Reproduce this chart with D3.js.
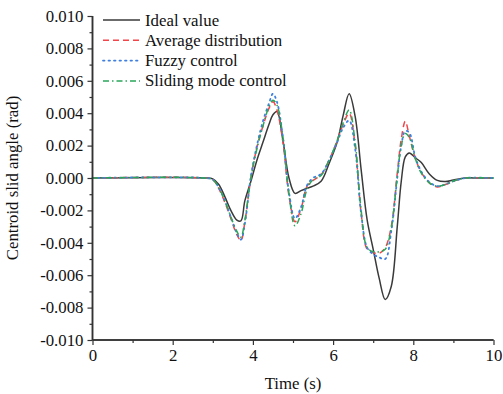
<!DOCTYPE html>
<html>
<head>
<meta charset="utf-8">
<script src="https://cdn.jsdelivr.net/npm/d3@7"></script>
<style>
  html, body { margin: 0; padding: 0; background: #fff; }
  svg text { font-family: "Liberation Serif", "Times New Roman", serif; fill: #111; }
</style>
</head>
<body>
<svg id="chart" width="503" height="394"></svg>
<script>
// ── Data (angles in units of 0.001 rad) ───────────────────
const times = [0, 2.8, 3.0, 3.15, 3.3, 3.45, 3.6, 3.7, 3.8, 3.95,
  4.1, 4.25, 4.4, 4.5, 4.6, 4.75, 4.9, 5.05, 5.2, 5.35,
  5.5, 5.7, 5.9, 6.1, 6.25, 6.4, 6.55, 6.7, 6.85, 7.0,
  7.15, 7.3, 7.45, 7.6, 7.7, 7.8, 7.9, 8.05, 8.2, 8.4,
  8.6, 8.8, 9.0, 9.3, 9.6, 10];

const idealValue = [0, 0, -0.05, -0.4, -1.15, -2.0, -2.6, -2.65, -1.4, -0.2,
  1.1, 2.2, 3.3, 3.9, 4.1, 2.3, 0.0, -0.95, -0.78, -0.63,
  -0.5, -0.2, 0.9, 2.2, 3.85, 5.2, 3.8, 0.5, -2.6, -4.4,
  -6.2, -7.5, -6.7, -3.0, -0.2, 1.3, 1.55, 1.25, 0.95, 0.25,
  -0.15, -0.22, -0.12, 0, 0, 0];

const averageDist = [0, 0, -0.1, -0.65, -1.5, -2.5, -3.5, -3.85, -2.7, 0.0,
  1.9, 3.2, 4.3, 4.7, 4.2, 2.2, -1.1, -2.7, -1.9, -0.5,
  -0.15, 0.2, 1.1, 2.3, 3.3, 4.0, 2.0, -2.2, -4.4, -4.6,
  -4.65, -4.3, -3.0, 0.3, 2.4, 3.5, 2.6, 1.2, 0.35, -0.3,
  -0.55, -0.4, -0.2, 0, 0.02, 0];

const fuzzyControl = [0, 0, -0.1, -0.6, -1.4, -2.4, -3.4, -3.8, -2.8, 0.1,
  2.0, 3.5, 4.6, 5.2, 4.7, 2.5, -0.9, -2.5, -1.8, -0.45,
  0.0, 0.25, 1.1, 2.2, 3.1, 3.55, 1.8, -2.2, -4.3, -4.7,
  -4.9, -5.0, -3.3, 0.0, 2.0, 2.9, 2.8, 1.3, 0.4, -0.25,
  -0.5, -0.4, -0.2, 0, 0.02, 0];

const slidingMode = [0, 0, -0.1, -0.6, -1.4, -2.4, -3.3, -3.65, -2.6, 0.0,
  1.8, 3.2, 4.4, 4.8, 4.5, 2.5, -1.0, -2.95, -2.2, -0.7,
  -0.1, 0.15, 1.1, 2.3, 3.4, 4.2, 2.2, -2.0, -4.3, -4.55,
  -4.55, -4.4, -3.1, 0.1, 2.0, 2.75, 2.5, 1.2, 0.3, -0.3,
  -0.5, -0.4, -0.18, 0, 0.02, 0];

const seriesNames = ['Ideal value', 'Average distribution', 'Fuzzy control', 'Sliding mode control'];
const seriesValues = [idealValue, averageDist, fuzzyControl, slidingMode];

const xTicks = [0, 2, 4, 6, 8, 10];
const yTicks = [-0.010, -0.008, -0.006, -0.004, -0.002, 0, 0.002, 0.004, 0.006, 0.008, 0.010];

// ── Styles per series ─────────────────────────────────────
const styles = [
  { color: '#3a3a3a', dash: null,        width: 1.5 },
  { color: '#f2454a', dash: '6,4',       width: 1.5 },
  { color: '#3f7fe0', dash: '1.5,4',     width: 1.8 },
  { color: '#2aa55a', dash: '6,3,1.5,3', width: 1.5 }
];

// ── Setup ─────────────────────────────────────────────────
const svg = d3.select('#chart');
const plotL = 92.5, plotR = 493.5, plotT = 16, plotB = 340;
const FONT = 16.8;

const x = d3.scaleLinear().domain([0, 10]).range([plotL, plotR]);
const y = d3.scaleLinear().domain([-0.010, 0.010]).range([plotB, plotT]);

// ── Curves ────────────────────────────────────────────────
const line = d3.line()
  .x(d => x(d[0]))
  .y(d => y(d[1] / 1000))
  .curve(d3.curveCatmullRom.alpha(0.5));

seriesValues.forEach((vals, i) => {
  const pts = times.map((t, k) => [t, vals[k]]);
  svg.append('path')
    .attr('d', line(pts))
    .attr('fill', 'none')
    .attr('stroke', styles[i].color)
    .attr('stroke-width', styles[i].width)
    .attr('stroke-dasharray', styles[i].dash)
    .attr('stroke-linecap', i === 2 ? 'round' : 'butt');
});

// ── Axes ──────────────────────────────────────────────────
const fmt = d => d.toFixed(3);

const yMinor = svg.append('g')
  .attr('transform', `translate(${plotL},0)`)
  .call(d3.axisLeft(y).tickValues(yTicks.slice(0, -1).map(v => v + 0.001)).tickSize(3).tickFormat(''));
const yAxis = svg.append('g')
  .attr('transform', `translate(${plotL},0)`)
  .call(d3.axisLeft(y).tickValues(yTicks).tickSize(5).tickPadding(4).tickFormat(fmt));

const xMinor = svg.append('g')
  .attr('transform', `translate(0,${plotB})`)
  .call(d3.axisBottom(x).tickValues(xTicks.slice(0, -1).map(v => v + 1)).tickSize(3).tickFormat(''));
const xAxis = svg.append('g')
  .attr('transform', `translate(0,${plotB})`)
  .call(d3.axisBottom(x).tickValues(xTicks).tickSize(5).tickPadding(4).tickFormat(d3.format('d')));

[yMinor, yAxis, xMinor, xAxis].forEach(g => {
  g.select('.domain').attr('stroke', '#333').attr('stroke-width', 1.5);
  g.selectAll('.tick line').attr('stroke', '#333').attr('stroke-width', 1.2);
  g.selectAll('.tick text').attr('font-size', FONT).attr('fill', '#111')
    .style('font-family', '"Liberation Serif", serif');
});
[yMinor, yAxis].forEach(g => g.select('.domain').attr('d', `M0,${plotT}V${plotB}`));
[xMinor, xAxis].forEach(g => g.select('.domain').attr('d', `M${plotL},0H${plotR}`));

// ── Axis titles ───────────────────────────────────────────
svg.append('text')
  .attr('x', (plotL + plotR) / 2)
  .attr('y', 389)
  .attr('text-anchor', 'middle')
  .attr('font-size', FONT)
  .text('Time (s)');

svg.append('text')
  .attr('transform', `translate(14,${(plotT + plotB) / 2}) rotate(-90)`)
  .attr('text-anchor', 'middle')
  .attr('dominant-baseline', 'middle')
  .attr('font-size', FONT)
  .text('Centroid slid angle (rad)');

// ── Legend ────────────────────────────────────────────────
const legend = svg.append('g');
seriesNames.forEach((name, i) => {
  const ly = 20 + i * 20.3;
  legend.append('line')
    .attr('x1', 103).attr('x2', 140)
    .attr('y1', ly).attr('y2', ly)
    .attr('stroke', styles[i].color)
    .attr('stroke-width', styles[i].width)
    .attr('stroke-dasharray', styles[i].dash)
    .attr('stroke-linecap', i === 2 ? 'round' : 'butt');
  legend.append('text')
    .attr('x', 145)
    .attr('y', ly)
    .attr('dominant-baseline', 'central')
    .attr('font-size', FONT)
    .text(name);
});
</script>
</body>
</html>
